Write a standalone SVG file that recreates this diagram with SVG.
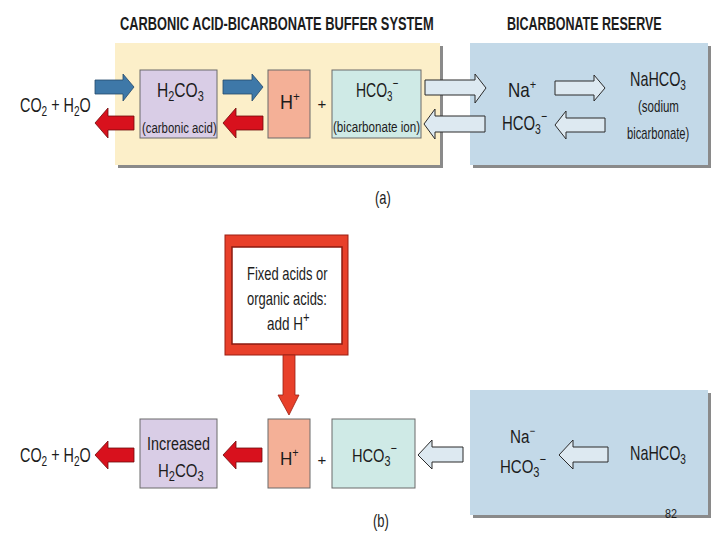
<svg xmlns="http://www.w3.org/2000/svg" width="720" height="540" viewBox="0 0 720 540">
<style>
text{font-family:"Liberation Sans",Arial,sans-serif;fill:#1c1c1c}
.title{font-weight:bold;font-size:18px}
.big{font-size:20px}
.mid{font-size:19px}
.lab{font-size:18px}
.small{font-size:15px}
.sub{font-size:14px}
.blue{fill:#3e78a8;stroke:#24496a;stroke-width:0.8}
.red{fill:#d8111d;stroke:#6e0a0a;stroke-width:0.8}
.pale{fill:#dde9f1;stroke:#2a2a2a;stroke-width:1}
.shadow{fill:#8a8a8a}
.box{stroke:#6a6a6a;stroke-width:1}
</style>
<rect width="720" height="540" fill="#ffffff"/>

<!-- (a) -->
<text class="title" transform="translate(120,30) scale(0.713,1)">CARBONIC ACID-BICARBONATE BUFFER SYSTEM</text>
<text class="title" transform="translate(507,30) scale(0.696,1)">BICARBONATE RESERVE</text>

<g id="bufferA">
<rect class="shadow" x="118" y="46" width="325" height="122"/>
<rect x="115" y="43" width="325" height="122" fill="#fcefc9"/>
</g>
<g id="reserveA">
<rect class="shadow" x="473" y="46" width="238" height="122"/>
<rect x="470" y="43" width="238" height="122" fill="#c3d9e8"/>
<text class="big" transform="translate(508,97) scale(0.85,1)">Na<tspan font-size="13" dy="-8">+</tspan></text>
<text class="big" transform="translate(502,130) scale(0.745,1)">HCO<tspan class="sub" dy="4">3</tspan><tspan class="sub" dy="-13">−</tspan></text>
<text class="big" transform="translate(630,86) scale(0.72,1)">NaHCO<tspan class="sub" dy="4">3</tspan></text>
<text font-size="16" transform="translate(638,112) scale(0.72,1)">(sodium</text>
<text font-size="16" transform="translate(627,139) scale(0.70,1)">bicarbonate)</text>
</g>

<g id="co2a"><text class="big" transform="translate(20,112) scale(0.72,1)">CO<tspan class="sub" dy="4">2</tspan><tspan dy="-4"> + H</tspan><tspan class="sub" dy="4">2</tspan><tspan dy="-4">O</tspan></text></g>

<g id="h2co3a">
<rect class="box" x="140" y="70" width="77" height="68" fill="#d9cde6"/>
<text class="big" transform="translate(157,97) scale(0.78,1)">H<tspan class="sub" dy="4">2</tspan><tspan dy="-4">CO</tspan><tspan class="sub" dy="4">3</tspan></text>
<text class="small" transform="translate(142,133) scale(0.76,1)">(carbonic acid)</text>
</g>
<g id="hplusa">
<rect class="box" x="268" y="70" width="42" height="68" fill="#f4b097"/>
<text class="big" transform="translate(280,109) scale(0.9,1)">H<tspan font-size="13" dy="-8">+</tspan></text>
</g>
<text class="small" x="322" y="109" text-anchor="middle">+</text>
<g id="hco3a">
<rect class="box" x="332" y="70" width="89" height="68" fill="#cfeae6"/>
<text class="big" transform="translate(356,97) scale(0.7,1)">HCO<tspan class="sub" dy="4">3</tspan><tspan class="sub" dy="-13">−</tspan></text>
<text class="small" transform="translate(333,132) scale(0.775,1)">(bicarbonate ion)</text>
</g>
<text class="lab" transform="translate(375,204) scale(0.72,1)">(a)</text>

<g id="connectorsA">
<path class="blue" d="M95,80 H123 V74 L134,87 L123,101 V94 H95 Z"/>
<path class="blue" d="M223,80 H252 V74 L263,87 L252,101 V94 H223 Z"/>
<path class="red" d="M95,123 L108,108 V116 H134 V130 H108 V138 Z"/>
<path class="red" d="M223,123 L236,108 V116 H263 V130 H236 V138 Z"/>
<path class="pale" d="M425,80 H475 V74 L486,88 L475,103 V95 H425 Z"/>
<path class="pale" d="M424,124 L435,109 V116 H485 V132 H435 V139 Z"/>
<path class="pale" d="M555,81 H594 V75 L605,88 L594,101 V95 H555 Z"/>
<path class="pale" d="M555,125 L566,111 V118 H605 V132 H566 V139 Z"/>
</g>

<!-- (b) -->
<g id="acids">
<rect x="225" y="235" width="123" height="120" fill="#e8402a" stroke="#9b1e12" stroke-width="1"/>
<rect x="232" y="247" width="110" height="97" fill="#ffffff" stroke="#8b1a10" stroke-width="1.5"/>
<text class="lab" transform="translate(247,280) scale(0.72,1)">Fixed acids or</text>
<text class="lab" transform="translate(247,305) scale(0.72,1)">organic acids:</text>
<text class="lab" transform="translate(267,330) scale(0.75,1)">add H<tspan font-size="15" dy="-8">+</tspan></text>
</g>

<g id="co2b"><text class="big" transform="translate(20,462) scale(0.72,1)">CO<tspan class="sub" dy="4">2</tspan><tspan dy="-4"> + H</tspan><tspan class="sub" dy="4">2</tspan><tspan dy="-4">O</tspan></text></g>

<g id="h2co3b">
<rect class="box" x="140" y="419" width="77" height="69" fill="#d9cde6"/>
<text class="mid" transform="translate(147,450) scale(0.755,1)">Increased</text>
<text class="mid" transform="translate(158,477) scale(0.79,1)">H<tspan class="sub" dy="4">2</tspan><tspan dy="-4">CO</tspan><tspan class="sub" dy="4">3</tspan></text>
</g>
<g id="hplusb">
<rect class="box" x="268" y="419" width="42" height="69" fill="#f4b097"/>
<text class="mid" transform="translate(280,465) scale(0.9,1)">H<tspan font-size="12" dy="-8">+</tspan></text>
</g>
<text class="small" x="322" y="465" text-anchor="middle">+</text>
<g id="hco3b">
<rect class="box" x="332" y="419" width="83" height="69" fill="#cfeae6"/>
<text class="mid" transform="translate(352,462) scale(0.77,1)">HCO<tspan class="sub" dy="4">3</tspan><tspan class="sub" dy="-13">−</tspan></text>
</g>

<g id="reserveB">
<rect class="shadow" x="473" y="393" width="238" height="125"/>
<rect x="470" y="390" width="238" height="125" fill="#c3d9e8"/>
<text class="mid" transform="translate(510,443) scale(0.8,1)">Na<tspan font-size="12" dy="-8">−</tspan></text>
<text class="mid" transform="translate(500,473) scale(0.79,1)">HCO<tspan class="sub" dy="4">3</tspan><tspan class="sub" dy="-13">−</tspan></text>
<text class="big" transform="translate(630,460) scale(0.72,1)">NaHCO<tspan class="sub" dy="4">3</tspan></text>
<text transform="translate(665,518) scale(0.9,1)" font-size="12">82</text>
</g>
<text class="lab" transform="translate(373,527) scale(0.72,1)">(b)</text>

<g id="connectorsB">
<path d="M283,355 H295 V395 H299 L289,415 L278,395 H283 Z" fill="#e8402a" stroke="#9b1e12" stroke-width="0.8"/>
<path class="red" d="M95,455 L108,441 V448 H134 V462 H108 V469 Z"/>
<path class="red" d="M223,455 L236,441 V448 H262 V462 H236 V469 Z"/>
<path class="pale" d="M418,455 L432,440 V447 H463 V462 H432 V469 Z"/>
<path class="pale" d="M559,455 L573,440 V447 H608 V462 H573 V469 Z"/>
</g>
</svg>
